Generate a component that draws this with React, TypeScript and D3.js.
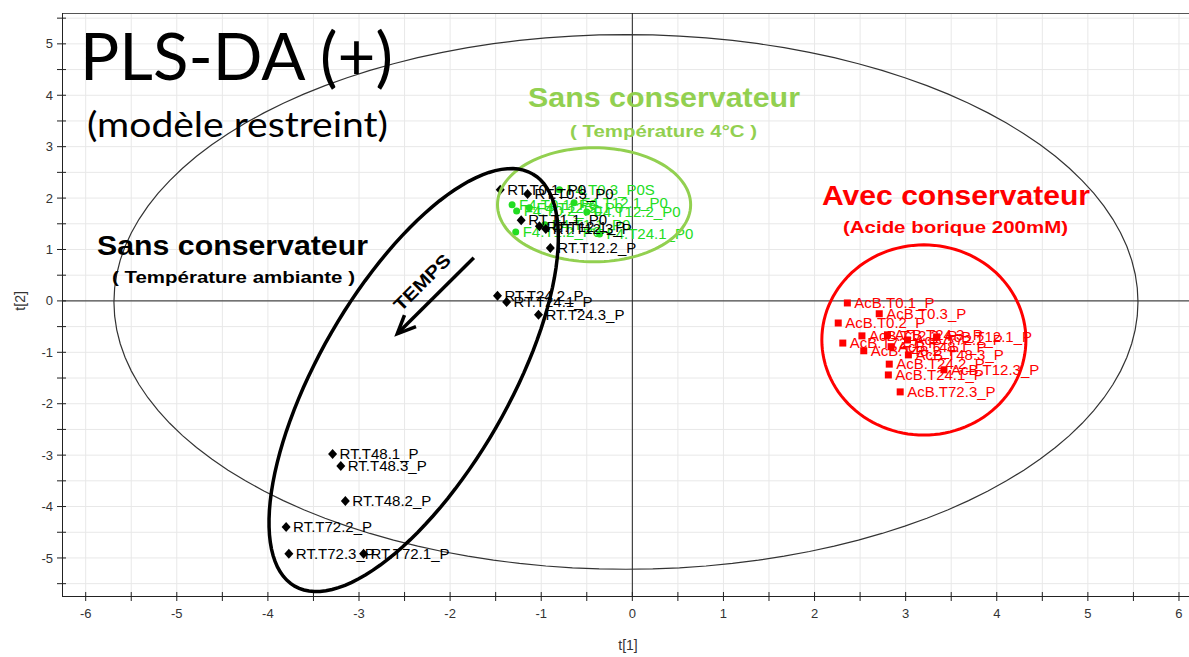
import React from "react";
import * as d3 from "d3";

const W = 1189;
const H = 657;

// ---- data ----
const blackNames = ["RT.T0.1_P0", "RT.T0.3_P0", "RT.T1.1_P0", "RT.T12.1_P", "RT.T12.3_P", "RT.T12.2_P", "RT.T24.2_P", "RT.T24.1_P", "RT.T24.3_P", "RT.T48.1_P", "RT.T48.3_P", "RT.T48.2_P", "RT.T72.2_P", "RT.T72.3_P", "RT.T72.1_P"];
const blackX = [-1.45, -1.15, -1.22, -1.02, -0.95, -0.9, -1.48, -1.38, -1.03, -3.29, -3.2, -3.15, -3.8, -3.77, -2.95];
const blackY = [2.16, 2.08, 1.57, 1.45, 1.4, 1.03, 0.1, -0.02, -0.27, -2.98, -3.21, -3.89, -4.4, -4.92, -4.92];

const greenNames = ["F4.T0.1_P0", "F4.T0.2_P0", "F4.T1.2_P0", "F4.T12.3_P0", "F4.T0.3_P0S", "F4.T12.2_P0", "F4.T24.1_P0", "F4.T1.1_P0", "F4.T12.1_P0"];
const greenX = [-1.32, -1.27, -1.28, -1.13, -0.8, -0.5, -0.36, -0.96, -0.64];
const greenY = [1.87, 1.75, 1.34, 1.81, 2.16, 1.73, 1.3, 1.48, 1.91];

const redNames = ["AcB.T0.1_P", "AcB.T0.3_P", "AcB.T0.2_P", "AcB.T12.2_P", "AcB.T72.1_P", "AcB.T24.3_P", "AcB.T48.1_P", "AcB.T48.2_P", "AcB.T48.3_P", "AcB.T12.1_P", "AcB.T24.2_P", "AcB.T24.1_P", "AcB.T12.3_P", "AcB.T72.3_P", "AcB.T72.2_P"];
const redX = [2.36, 2.71, 2.26, 2.52, 2.31, 2.8, 2.84, 2.54, 3.03, 3.34, 2.82, 2.81, 3.42, 2.94, 3.02];
const redY = [-0.04, -0.25, -0.43, -0.68, -0.82, -0.66, -0.89, -0.97, -1.05, -0.7, -1.23, -1.44, -1.34, -1.77, -0.76];

const xTicks = d3.range(-6, 6.01, 0.5);
const yTicks = d3.range(-5.5, 5.51, 0.5);

// Hotelling ellipse (data units)
const hotelling = { cx: -0.07, cy: -0.02, rx: 5.62, ry: 5.2 };
// group ellipses (data units)
const greenEllipse = { cx: -0.42, cy: 1.87, rx: 1.06, ry: 1.11 };
const redEllipse = { cx: 3.2, cy: -0.76, rx: 1.12, ry: 1.85 };
// tilted black ellipse: centre in data, semi-axes in px, angle in degrees
const blackEllipse = { cx: -2.4, cy: -1.54, a: 238, b: 95, angle: -60 };
// arrow "TEMPS"
const arrowFrom = [-1.74, 0.84];
const arrowTo = [-2.58, -0.64];

const x = d3.scaleLinear().domain([-6.26, 6.11]).range([62, 1189]);
const y = d3.scaleLinear().domain([-5.74, 5.6]).range([596, 13]);

const line = d3.line<[number, number]>().x((d) => d[0]).y((d) => d[1]);

function ellipseData(e: { cx: number; cy: number; rx: number; ry: number }) {
  const pts: [number, number][] = d3.range(0, 361, 3).map((t) => {
    const r = (t * Math.PI) / 180;
    return [x(e.cx + e.rx * Math.cos(r)), y(e.cy + e.ry * Math.sin(r))];
  });
  return line(pts) || "";
}

function tiltedEllipse(e: typeof blackEllipse) {
  const cx = x(e.cx);
  const cy = y(e.cy);
  const ang = (e.angle * Math.PI) / 180;
  const pts: [number, number][] = d3.range(0, 361, 3).map((t) => {
    const r = (t * Math.PI) / 180;
    const px = e.a * Math.cos(r);
    const py = e.b * Math.sin(r);
    return [cx + px * Math.cos(ang) - py * Math.sin(ang), cy + px * Math.sin(ang) + py * Math.cos(ang)];
  });
  return line(pts) || "";
}

const LABEL_FONT = "'Liberation Sans', Arial, sans-serif";

export default function App() {
  const ax0 = x(arrowFrom[0]);
  const ay0 = y(arrowFrom[1]);
  const ax1 = x(arrowTo[0]);
  const ay1 = y(arrowTo[1]);
  const dirAng = Math.atan2(ay1 - ay0, ax1 - ax0);
  const head = 20;
  const spread = 0.42;
  const h1: [number, number] = [ax1 - head * Math.cos(dirAng - spread), ay1 - head * Math.sin(dirAng - spread)];
  const h2: [number, number] = [ax1 - head * Math.cos(dirAng + spread), ay1 - head * Math.sin(dirAng + spread)];
  const tmx = (ax0 + ax1) / 2 - 9;
  const tmy = (ay0 + ay1) / 2 - 9;

  return (
    <svg width={W} height={H} style={{ position: "absolute", left: 0, top: 0, background: "#fff" }}>
      {/* grid */}
      <g>
        {xTicks.map((t) => (
          <line key={"gx" + t} x1={x(t)} x2={x(t)} y1={13} y2={596} stroke="#e8e8e8" strokeWidth={1} />
        ))}
        {yTicks.map((t) => (
          <line key={"gy" + t} x1={62} x2={W} y1={y(t)} y2={y(t)} stroke="#e8e8e8" strokeWidth={1} />
        ))}
      </g>
      {/* frame */}
      <line x1={62} x2={W} y1={13.5} y2={13.5} stroke="#555" strokeWidth={1} />
      <line x1={62.5} x2={62.5} y1={13} y2={597} stroke="#222" strokeWidth={1} />
      <line x1={62} x2={W} y1={596.5} y2={596.5} stroke="#222" strokeWidth={1.2} />
      {/* zero lines */}
      <line x1={x(0)} x2={x(0)} y1={13} y2={596} stroke="#222" strokeWidth={1} />
      <line x1={62} x2={W} y1={y(0)} y2={y(0)} stroke="#222" strokeWidth={1} />
      {/* ticks */}
      {yTicks.map((t) => (
        <line key={"ty" + t} x1={57} x2={66} y1={y(t)} y2={y(t)} stroke="#222" strokeWidth={1} />
      ))}
      {xTicks.map((t) => (
        <line key={"tx" + t} x1={x(t)} x2={x(t)} y1={592} y2={601} stroke="#222" strokeWidth={1} />
      ))}
      {yTicks.filter((t) => Number.isInteger(t)).map((t) => (
        <text key={"ly" + t} x={53} y={y(t)} dy="0.35em" textAnchor="end" fontFamily={LABEL_FONT} fontSize={13} fill="#333">
          {t}
        </text>
      ))}
      {xTicks.filter((t) => Number.isInteger(t)).map((t) => (
        <text key={"lx" + t} x={x(t)} y={618} textAnchor="middle" fontFamily={LABEL_FONT} fontSize={13} fill="#333">
          {t}
        </text>
      ))}
      <text x={628} y={650} textAnchor="middle" fontFamily={LABEL_FONT} fontSize={14} fill="#333">t[1]</text>
      <text transform={`translate(25,${y(0)}) rotate(-90)`} textAnchor="middle" fontFamily={LABEL_FONT} fontSize={14} fill="#333">t[2]</text>

      {/* Hotelling ellipse */}
      <path d={ellipseData(hotelling)} fill="none" stroke="#333" strokeWidth={1.2} />

      {/* green points */}
      <g>
        {greenX.map((v, i) => (
          <g key={"g" + i}>
            <circle cx={x(v)} cy={y(greenY[i])} r={3.5} fill="#22dd22" />
            <text x={x(v) + 7} y={y(greenY[i])} dy="0.35em" fontFamily={LABEL_FONT} fontSize={15} fill="#22dd22">{greenNames[i]}</text>
          </g>
        ))}
      </g>
      {/* black points */}
      <g>
        {blackX.map((v, i) => {
          const cx = x(v);
          const cy = y(blackY[i]);
          return (
            <g key={"b" + i}>
              <path d={`M${cx},${cy - 5}L${cx + 4.5},${cy}L${cx},${cy + 5}L${cx - 4.5},${cy}Z`} fill="#000" />
              <text x={cx + 7} y={cy} dy="0.35em" fontFamily={LABEL_FONT} fontSize={15} fill="#000">{blackNames[i]}</text>
            </g>
          );
        })}
      </g>
      {/* red points */}
      <g>
        {redX.map((v, i) => {
          const cx = x(v);
          const cy = y(redY[i]);
          return (
            <g key={"r" + i}>
              <rect x={cx - 3.5} y={cy - 3.5} width={7} height={7} fill="#ff0000" />
              <text x={cx + 7} y={cy} dy="0.35em" fontFamily={LABEL_FONT} fontSize={15} fill="#ff0000">{redNames[i]}</text>
            </g>
          );
        })}
      </g>

      {/* group ellipses */}
      <path d={ellipseData(greenEllipse)} fill="none" stroke="#92d050" strokeWidth={3} />
      <path d={ellipseData(redEllipse)} fill="none" stroke="#ff0000" strokeWidth={3} />
      <path d={tiltedEllipse(blackEllipse)} fill="none" stroke="#000" strokeWidth={3.5} />

      {/* arrow */}
      <line x1={ax0} y1={ay0} x2={ax1} y2={ay1} stroke="#000" strokeWidth={3.5} />
      <path d={line([h1, [ax1, ay1], h2]) || ""} fill="none" stroke="#000" strokeWidth={3.5} />
      <text transform={`translate(${tmx},${tmy}) rotate(-45)`} textAnchor="middle" fontFamily={LABEL_FONT} fontWeight="bold" fontSize={18} textLength={72} lengthAdjust="spacingAndGlyphs" fill="#000">TEMPS</text>

      {/* titles */}
      <text x={80} y={80} fontFamily="Lato, 'Open Sans', sans-serif" fontSize={66} textLength={313} lengthAdjust="spacingAndGlyphs" fill="#000">PLS-DA (+)</text>
      <text x={87} y={137} fontFamily="Lato, 'Open Sans', sans-serif" fontSize={35} textLength={301} lengthAdjust="spacingAndGlyphs" fill="#000">(modèle restreint)</text>

      <text x={97} y={255} fontFamily={LABEL_FONT} fontWeight="bold" fontSize={27} textLength={271} lengthAdjust="spacingAndGlyphs" fill="#000">Sans conservateur</text>
      <text x={112} y={283} fontFamily={LABEL_FONT} fontWeight="bold" fontSize={16} textLength={243} lengthAdjust="spacingAndGlyphs" fill="#000">( Température ambiante )</text>

      <text x={528} y={107} fontFamily={LABEL_FONT} fontWeight="bold" fontSize={27} textLength={272} lengthAdjust="spacingAndGlyphs" fill="#92d050">Sans conservateur</text>
      <text x={570} y={137} fontFamily={LABEL_FONT} fontWeight="bold" fontSize={16} textLength={187} lengthAdjust="spacingAndGlyphs" fill="#92d050">( Température 4°C )</text>

      <text x={822} y={205} fontFamily={LABEL_FONT} fontWeight="bold" fontSize={28} textLength={268} lengthAdjust="spacingAndGlyphs" fill="#ff0000">Avec conservateur</text>
      <text x={843} y={233} fontFamily={LABEL_FONT} fontWeight="bold" fontSize={17} textLength={225} lengthAdjust="spacingAndGlyphs" fill="#ff0000">(Acide borique 200mM)</text>
    </svg>
  );
}
